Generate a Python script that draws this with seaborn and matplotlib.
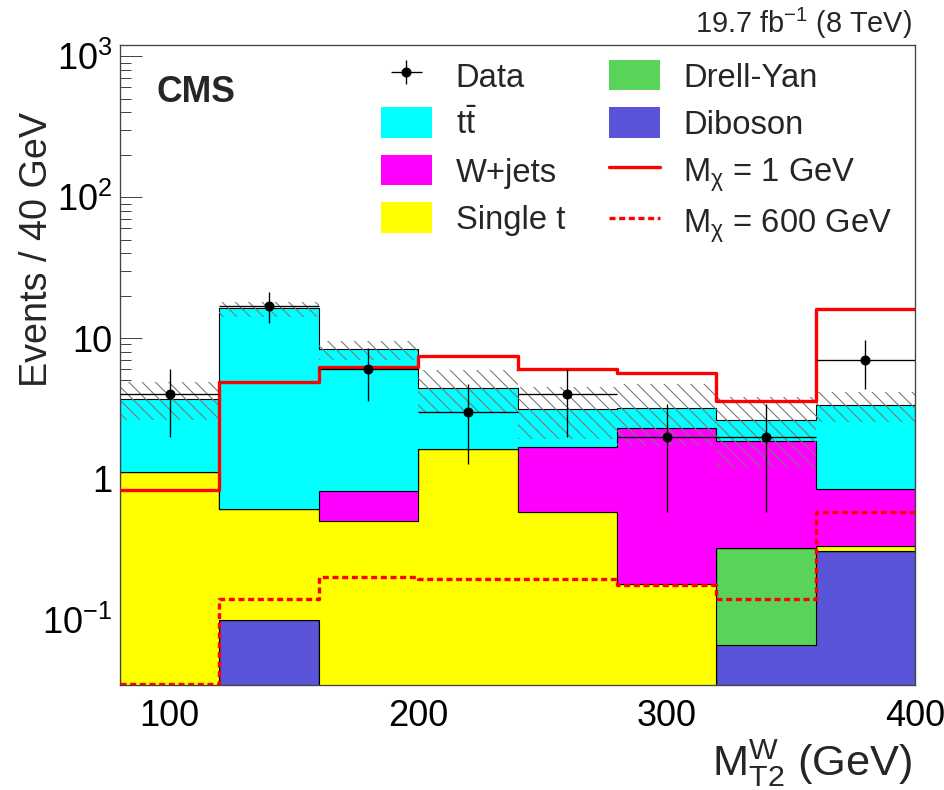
import numpy as np
import pandas as pd
import matplotlib
matplotlib.use("Agg")
import matplotlib.pyplot as plt
import seaborn as sns
from matplotlib.patches import Patch, Rectangle
from matplotlib.lines import Line2D
from matplotlib.legend_handler import HandlerPatch, HandlerErrorbar
from matplotlib.ticker import FixedLocator, FixedFormatter, LogLocator, MultipleLocator, NullFormatter

# ---- binning of M_T2^W (GeV) ----
bin_edges = [80, 120, 160, 200, 240, 280, 320, 360, 400]

# ---- expected background events per bin ----
diboson  = [0.0, 0.10, 0.0, 0.0, 0.0, 0.0, 0.066, 0.31]
drellyan = [0.0, 0.0, 0.0, 0.0, 0.0, 0.0, 0.26, 0.0]
single_t = [1.12, 0.51, 0.50, 1.62, 0.58, 0.18, 0.0, 0.024]
wjets    = [0.0, 0.0, 0.32, 0.0, 1.11, 2.12, 1.53, 0.51]
ttbar    = [2.55, 15.6, 7.48, 2.80, 1.46, 0.89, 0.75, 2.49]

# total background uncertainty band
band_lo = [2.61, 14.1, 7.0, 3.0, 1.93, 1.70, 1.20, 2.54]
band_hi = [4.87, 18.1, 9.6, 5.9, 4.49, 4.70, 3.80, 4.14]

# ---- signal hypotheses ----
signal_m1   = [0.84, 4.9, 6.2, 7.4, 6.0, 5.6, 3.6, 16.1]
signal_m600 = [0.035, 0.14, 0.20, 0.195, 0.195, 0.177, 0.14, 0.58]

# ---- observed data ----
data_counts = [4, 17, 6, 3, 4, 2, 2, 7]

process_names = ["ttbar", "W+jets", "Single t", "Drell-Yan", "Diboson"]
process_values = [ttbar, wjets, single_t, drellyan, diboson]
process_colors = {
    "ttbar": "#00ffff",
    "W+jets": "#ff00ff",
    "Single t": "#ffff00",
    "Drell-Yan": "#59d459",
    "Diboson": "#5954d8",
}

edges = np.array(bin_edges, dtype=float)
centers = 0.5 * (edges[:-1] + edges[1:])
half_width = 0.5 * np.diff(edges)

rows = []
for name, vals in zip(process_names, process_values):
    for c, v in zip(centers, vals):
        rows.append({"mt2": c, "events": v, "process": name})
bkg = pd.DataFrame(rows)

sns.set_theme(style="white")
plt.rcParams["font.family"] = ["Liberation Sans", "DejaVu Sans"]
plt.rcParams["mathtext.fontset"] = "custom"
plt.rcParams["mathtext.rm"] = "Liberation Sans"
plt.rcParams["mathtext.it"] = "Liberation Sans:italic"
plt.rcParams["mathtext.bf"] = "Liberation Sans:bold"
plt.rcParams["mathtext.sf"] = "Liberation Sans"
plt.rcParams["hatch.linewidth"] = 1.0

DPI = 80
fig = plt.figure(figsize=(944 / DPI, 790 / DPI), dpi=DPI)
ax = fig.add_axes([0.12712, 0.13291, 0.84216, 0.81013])
ax.set_yscale("log")

# stacked backgrounds (last hue level sits at the bottom of the stack)
sns.histplot(
    data=bkg, x="mt2", weights="events", hue="process", hue_order=process_names,
    palette=process_colors, multiple="stack", element="step", bins=list(bin_edges),
    fill=True, alpha=1, edgecolor="black", linewidth=1.0, legend=False, ax=ax,
)

# background uncertainty
ax.fill_between(
    edges, np.append(band_lo, band_lo[-1]), np.append(band_hi, band_hi[-1]),
    step="post", facecolor="none", edgecolor="#7a7a7a", hatch="\\\\",
    linewidth=0, zorder=2,
)

# signal curves
step_x = edges
sns.lineplot(x=step_x, y=np.append(signal_m1, signal_m1[-1]), drawstyle="steps-post",
             color="#ff0000", linewidth=3.0, estimator=None, sort=False,
             errorbar=None, ax=ax, zorder=3)
sns.lineplot(x=step_x, y=np.append(signal_m600, signal_m600[-1]), drawstyle="steps-post",
             color="#ff0000", linewidth=3.0, linestyle=(0, (1.8, 1.1)), estimator=None,
             sort=False, errorbar=None, ax=ax, zorder=3)

# data with Poisson uncertainties
data_arr = np.array(data_counts, dtype=float)
data_err = np.sqrt(data_arr)
data_handle = ax.errorbar(centers, data_arr, xerr=half_width, yerr=data_err, fmt="o",
                          color="black", markersize=8, elinewidth=1.2, capsize=0,
                          zorder=5)

ax.set_xlim(80, 400)
ax.set_ylim(0.0345, 1200)

# axes cosmetics
for sp in ax.spines.values():
    sp.set_visible(True)
    sp.set_color("#444444")
    sp.set_linewidth(1.2)

ax.xaxis.set_major_locator(FixedLocator([100, 200, 300, 400]))
ax.xaxis.set_minor_locator(MultipleLocator(20))
ax.yaxis.set_major_locator(FixedLocator([0.1, 1, 10, 100, 1000]))
ax.yaxis.set_major_formatter(FixedFormatter([r"$10^{-1}$", "1", "10", r"$10^{2}$", r"$10^{3}$"]))
ax.yaxis.set_minor_locator(LogLocator(base=10, subs=np.arange(2, 10)))
ax.yaxis.set_minor_formatter(NullFormatter())
ax.tick_params(which="both", direction="in", bottom=True, left=True, top=False, right=False,
               color="#444444", labelcolor="black", labelsize=32.5)
ax.tick_params(axis="x", which="major", length=18, width=0.9, pad=12.5)
ax.tick_params(axis="x", which="minor", length=8, width=0.9)
ax.tick_params(axis="y", which="major", length=20, width=0.9, pad=7)
ax.tick_params(axis="y", which="minor", length=10, width=0.9)

ax.set_xlabel(r"$\mathrm{M}_{\mathrm{T2}}^{\mathrm{W}}$ (GeV)", fontsize=39,
              ha="right", va="baseline")
ax.xaxis.set_label_coords(0.996, -0.142)
ax.set_ylabel("Events / 40 GeV", fontsize=34)
ax.yaxis.set_label_coords(-0.105, 0.895)
ax.yaxis.label.set_ha("right")
ax.yaxis.label.set_va("center")

fig.text(157 / 944, 1 - 102 / 790, "CMS", fontsize=32, fontweight="bold",
         ha="left", va="baseline")
fig.text(912 / 944, 1 - 33 / 790, r"19.7 fb$^{\mathrm{-1}}$ (8 TeV)", fontsize=26,
         ha="right", va="baseline")


def box_patch(legend, orig_handle, xdescent, ydescent, width, height, fontsize):
    h = 0.92 * fontsize
    c = 0.36 * fontsize
    return Rectangle((-xdescent, c - h / 2), width, h)


handles = [
    data_handle,
    Patch(facecolor=process_colors["ttbar"], edgecolor="none"),
    Patch(facecolor=process_colors["W+jets"], edgecolor="none"),
    Patch(facecolor=process_colors["Single t"], edgecolor="none"),
    Patch(facecolor=process_colors["Drell-Yan"], edgecolor="none"),
    Patch(facecolor=process_colors["Diboson"], edgecolor="none"),
    Line2D([], [], color="#ff0000", linewidth=3.0),
    Line2D([], [], color="#ff0000", linewidth=3.0, linestyle=(0, (1.8, 1.1))),
]
labels = [
    "Data", r"$\mathrm{t\bar{t}}$", "W+jets", "Single t",
    "Drell-Yan", "Diboson", r"M$_{\mathrm{\chi}}$ = 1 GeV", r"M$_{\mathrm{\chi}}$ = 600 GeV",
]
leg = ax.legend(
    handles, labels, ncols=2, loc="upper left",
    bbox_to_anchor=(381 / 944, 1 - 56.6 / 790), bbox_transform=fig.transFigure,
    frameon=False, fontsize=29.5, borderpad=0, borderaxespad=0,
    handlelength=1.555, handleheight=1.45, handletextpad=0.72,
    labelspacing=0.26, columnspacing=1.34,
    handler_map={Patch: HandlerPatch(patch_func=box_patch),
                 type(data_handle): HandlerErrorbar(xerr_size=0.48, yerr_size=0.36)},
)

fig.savefig("out.png", dpi=DPI)
